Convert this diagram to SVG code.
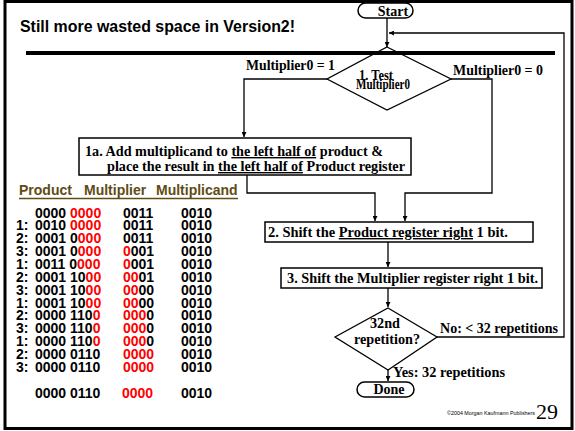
<svg xmlns="http://www.w3.org/2000/svg" width="575" height="431" viewBox="0 0 575 431">
<style>
.fc { font-family: "Liberation Serif", "Times New Roman", serif; font-weight: bold; font-size: 14px; fill: #000; }
.sans { font-family: "Liberation Sans", Arial, sans-serif; font-weight: bold; }
.data { font-family: "Liberation Sans", Arial, sans-serif; font-weight: bold; font-size: 14px; fill: #000; }
.r { fill: #ff0000; }
.box { fill: #fff; stroke: #000; stroke-width: 1.5; }
.dia { fill: none; stroke: #000; stroke-width: 1.3; }
.conn { fill: none; stroke: #000; stroke-width: 1.3; }
.ul { text-decoration: underline; }
</style>
<defs>
<marker id="ah" viewBox="0 0 10 10" refX="10" refY="5" markerWidth="6" markerHeight="5" markerUnits="userSpaceOnUse" orient="auto">
<path d="M0,0 L10,5 L0,10 z" fill="#000"/>
</marker>
</defs>
<rect x="0" y="0" width="575" height="431" fill="#fff"/>
<rect x="5" y="1.5" width="567" height="427" fill="none" stroke="#000" stroke-width="3"/>
<g id="title">
<text class="sans" x="20" y="32" font-size="16" textLength="275" lengthAdjust="spacingAndGlyphs">Still more wasted space in Version2!</text>
</g>
<g id="connectors">
<path class="conn" d="M387,18 V47" marker-end="url(#ah)"/>
<path class="conn" d="M327,79 H244 V137" marker-end="url(#ah)"/>
<path class="conn" d="M451,79 H492 V193 H405 V221" marker-end="url(#ah)"/>
<path class="conn" d="M247,175 V193 H375 V221" marker-end="url(#ah)"/>
<path class="conn" d="M388,242 V267" marker-end="url(#ah)"/>
<path class="conn" d="M388,288 V307" marker-end="url(#ah)"/>
<path class="conn" d="M437,337 H564 V33 H389" marker-end="url(#ah)"/>
<path class="conn" d="M388,370 V381" marker-end="url(#ah)"/>
</g>
<g id="start">
<rect class="box" x="358" y="3" width="55" height="15" rx="7.5"/>
<text class="fc" x="393" y="16" text-anchor="middle">Start</text>
</g>
<g id="test1">
<polygon class="dia" points="387,47 451,79 387,110 327,79"/>
<text class="fc" x="359" y="80" font-size="13.5" textLength="34" lengthAdjust="spacingAndGlyphs">1. Test</text>
<text class="fc" x="356" y="89" font-size="13.5" textLength="54" lengthAdjust="spacingAndGlyphs">Multiplier0</text>
<text class="fc" x="246" y="70" textLength="89" lengthAdjust="spacingAndGlyphs">Multiplier0 = 1</text>
<text class="fc" x="453" y="75" textLength="90" lengthAdjust="spacingAndGlyphs">Multiplier0 = 0</text>
</g>
<rect x="26" y="51" width="529" height="4" fill="#000"/>
<g id="step1a">
<rect class="box" x="79" y="138" width="332" height="37"/>
<text class="fc" x="85" y="156" font-size="13.5" textLength="298" lengthAdjust="spacingAndGlyphs">1a. Add multiplicand to <tspan class="ul">the left half of</tspan> product &amp;</text>
<text class="fc" x="107" y="171" font-size="13.5" textLength="298" lengthAdjust="spacingAndGlyphs">place the result in <tspan class="ul">the left half of</tspan> Product register</text>
</g>
<g id="step2">
<rect class="box" x="265" y="222" width="268" height="20"/>
<text class="fc" x="268" y="237" textLength="240" lengthAdjust="spacingAndGlyphs">2. Shift the <tspan class="ul">Product register right</tspan> 1 bit.</text>
</g>
<g id="step3">
<rect class="box" x="281" y="268" width="261" height="20"/>
<text class="fc" x="287" y="283" textLength="251" lengthAdjust="spacingAndGlyphs">3. Shift the Multiplier register right 1 bit.</text>
</g>
<g id="test2">
<polygon class="dia" points="388,308 437,337 388,370 335,337"/>
<text class="fc" x="370" y="328" textLength="30" lengthAdjust="spacingAndGlyphs">32nd</text>
<text class="fc" x="354" y="344" textLength="66" lengthAdjust="spacingAndGlyphs">repetition?</text>
<text class="fc" x="440" y="333" textLength="118" lengthAdjust="spacingAndGlyphs">No: &lt; 32 repetitions</text>
<text class="fc" x="393" y="377" textLength="112" lengthAdjust="spacingAndGlyphs">Yes: 32 repetitions</text>
</g>
<g id="done">
<rect class="box" x="357" y="382" width="57" height="15" rx="7.5"/>
<text class="fc" x="389" y="394" text-anchor="middle">Done</text>
</g>
<g id="table">
<text class="sans" x="19" y="195" font-size="14" fill="#604c14"><tspan x="19">Product</tspan><tspan x="84">Multiplier</tspan><tspan x="156">Multiplicand</tspan></text>
<line x1="19" y1="198.5" x2="238" y2="198.5" stroke="#604c14" stroke-width="1.5"/>
<g class="data">
<text x="35" y="217.5">0000 <tspan class="r">0000</tspan></text><text x="123" y="217.5">0011</text><text x="181" y="217.5">0010</text>
<text x="16" y="230.4">1:</text><text x="35" y="230.4">0010 <tspan class="r">0000</tspan></text><text x="123" y="230.4">0011</text><text x="181" y="230.4">0010</text>
<text x="16" y="243.2">2:</text><text x="35" y="243.2">0001 0<tspan class="r">000</tspan></text><text x="123" y="243.2">0011</text><text x="181" y="243.2">0010</text>
<text x="16" y="256.1">3:</text><text x="35" y="256.1">0001 0<tspan class="r">000</tspan></text><text x="123" y="256.1"><tspan class="r">0</tspan>001</text><text x="181" y="256.1">0010</text>
<text x="16" y="268.9">1:</text><text x="35" y="268.9">0011 0<tspan class="r">000</tspan></text><text x="123" y="268.9"><tspan class="r">0</tspan>001</text><text x="181" y="268.9">0010</text>
<text x="16" y="281.8">2:</text><text x="35" y="281.8">0001 10<tspan class="r">00</tspan></text><text x="123" y="281.8"><tspan class="r">00</tspan>01</text><text x="181" y="281.8">0010</text>
<text x="16" y="294.6">3:</text><text x="35" y="294.6">0001 10<tspan class="r">00</tspan></text><text x="123" y="294.6"><tspan class="r">00</tspan>00</text><text x="181" y="294.6">0010</text>
<text x="16" y="307.5">1:</text><text x="35" y="307.5">0001 10<tspan class="r">00</tspan></text><text x="123" y="307.5"><tspan class="r">00</tspan>00</text><text x="181" y="307.5">0010</text>
<text x="16" y="320.3">2:</text><text x="35" y="320.3">0000 110<tspan class="r">0</tspan></text><text x="123" y="320.3"><tspan class="r">000</tspan>0</text><text x="181" y="320.3">0010</text>
<text x="16" y="333.2">3:</text><text x="35" y="333.2">0000 110<tspan class="r">0</tspan></text><text x="123" y="333.2"><tspan class="r">000</tspan>0</text><text x="181" y="333.2">0010</text>
<text x="16" y="346">1:</text><text x="35" y="346">0000 110<tspan class="r">0</tspan></text><text x="123" y="346"><tspan class="r">000</tspan>0</text><text x="181" y="346">0010</text>
<text x="16" y="358.9">2:</text><text x="35" y="358.9">0000 0110</text><text x="123" y="358.9" class="r">0000</text><text x="181" y="358.9">0010</text>
<text x="16" y="371.7">3:</text><text x="35" y="371.7">0000 0110</text><text x="123" y="371.7" class="r">0000</text><text x="181" y="371.7">0010</text>
<text x="35" y="398">0000 0110</text><text x="122" y="398" class="r">0000</text><text x="181" y="398">0010</text>
</g>
</g>
<g id="footer">
<text x="535" y="415" font-family="Liberation Sans, Arial, sans-serif" font-size="6" text-anchor="end" textLength="88" lengthAdjust="spacingAndGlyphs">©2004 Morgan Kaufmann Publishers</text>
<text x="558" y="419" font-family="Liberation Serif, Times New Roman, serif" font-size="22" text-anchor="end">29</text>
</g>
</svg>
